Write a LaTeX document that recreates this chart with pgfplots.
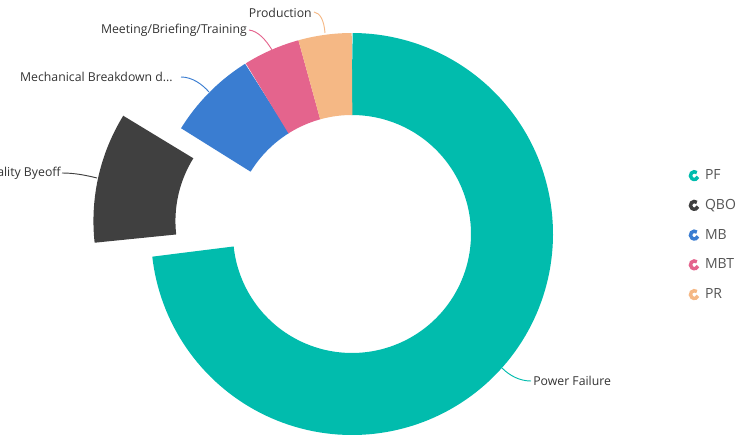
\documentclass[border=0pt]{standalone}
\usepackage{pgfplots}
\usepackage{pgfplotstable}
\pgfplotsset{compat=1.18}
\usepackage{fontspec}
\setmainfont{Open Sans}
\definecolor{cPF}{HTML}{01BCAD}
\definecolor{cQBO}{HTML}{404040}
\definecolor{cMB}{HTML}{3A7DD1}
\definecolor{cMBT}{HTML}{E4648D}
\definecolor{cPR}{HTML}{F5B885}
\definecolor{lbl}{HTML}{333333}
\definecolor{legtext}{HTML}{555555}
\pgfplotstableread{
code value
PF 73.25
QBO 10.55
MB 7.30
MBT 4.60
PR 4.30
}\slices
\newcommand\ringicon[1]{\addlegendimage{legend image code/.code={\draw[#1,line width=2.6pt] (50:2.9pt) arc[start angle=50,end angle=340,radius=2.9pt];}}}
\pgfplotstablegetelem{0}{value}\of\slices \let\vPF\pgfplotsretval
\pgfplotstablegetelem{1}{value}\of\slices \let\vQBO\pgfplotsretval
\pgfplotstablegetelem{2}{value}\of\slices \let\vMB\pgfplotsretval
\pgfplotstablegetelem{3}{value}\of\slices \let\vMBT\pgfplotsretval
\pgfplotstablegetelem{4}{value}\of\slices \let\vPR\pgfplotsretval
\pgfmathsetmacro\tot{\vPF+\vQBO+\vMB+\vMBT+\vPR}
\pgfmathsetmacro\aPF{90-360*(\vPF/\tot)}
\pgfmathsetmacro\aQBO{\aPF-360*(\vQBO/\tot)}
\pgfmathsetmacro\aMB{\aQBO-360*(\vMB/\tot)}
\pgfmathsetmacro\aMBT{\aMB-360*(\vMBT/\tot)}
\pgfmathsetmacro\aPR{\aMBT-360*(\vPR/\tot)}
\pgfmathsetmacro\mQBO{(\aPF+\aQBO)/2}
\pgfmathsetmacro\cxQ{352+59*cos(\mQBO)}
\pgfmathsetmacro\cyQ{202+59*sin(\mQBO)}
\begin{document}
\begin{tikzpicture}
\path[use as bounding box] (0,0) rectangle (552.75pt,327pt);
\clip (0,0) rectangle (552.75pt,327pt);
\begin{axis}[at={(0,0)}, anchor=south west, scale only axis,
  width=552.75pt, height=327pt, xmin=0, xmax=737, ymin=0, ymax=436,
  hide axis, clip=false,
  legend style={at={(axis cs:684,270)}, anchor=north west, draw=none, fill=none,
    font=\fontsize{10.5}{12}\selectfont\color{legtext}, row sep=12.3pt,
    nodes={inner sep=0pt, text height=8pt, text depth=2pt}, column sep=4pt},
  legend cell align=left]
\addplot[forget plot, domain=\aPF:90, samples=150, variable=\t, line width=61.5pt, draw=cPF] ({352+160*cos(\t)},{202+160*sin(\t)});
\addplot[forget plot, domain=\aQBO:\aPF, samples=40, variable=\t, line width=61.5pt, draw=cQBO] ({\cxQ+160*cos(\t)},{\cyQ+160*sin(\t)});
\addplot[forget plot, domain=\aMB:\aQBO, samples=40, variable=\t, line width=61.5pt, draw=cMB] ({352+160*cos(\t)},{202+160*sin(\t)});
\addplot[forget plot, domain=\aMBT:\aMB, samples=30, variable=\t, line width=61.5pt, draw=cMBT] ({352+160*cos(\t)},{202+160*sin(\t)});
\addplot[forget plot, domain=\aPR:\aMBT, samples=30, variable=\t, line width=61.5pt, draw=cPR] ({352+160*cos(\t)},{202+160*sin(\t)});
\ringicon{cPF}\addlegendentry{PF}
\ringicon{cQBO}\addlegendentry{QBO}
\ringicon{cMB}\addlegendentry{MB}
\ringicon{cMBT}\addlegendentry{MBT}
\ringicon{cPR}\addlegendentry{PR}
% leader lines and labels
\draw[cPR, line width=0.7pt] (axis cs:325,403) .. controls (axis cs:324,416) and (axis cs:320,423) .. (axis cs:314,424);
\node[anchor=east, inner sep=0pt, text=lbl, font=\fontsize{9.2}{10}\selectfont] at (axis cs:312,423) {Production};
\draw[cMBT, line width=0.7pt] (axis cs:272,386) .. controls (axis cs:266,396) and (axis cs:258,405) .. (axis cs:249,406);
\node[anchor=east, inner sep=0pt, text=lbl, font=\fontsize{9.2}{10}\selectfont] at (axis cs:247,406) {Meeting/Briefing/Training};
\draw[cMB, line width=0.7pt] (axis cs:209,344) .. controls (axis cs:202,352) and (axis cs:192,359) .. (axis cs:181,359);
\node[anchor=east, inner sep=0pt, text=lbl, font=\fontsize{9.2}{10}\selectfont] at (axis cs:173,359) {Mechanical Breakdown d...};
\draw[cQBO, line width=0.7pt] (axis cs:97,258) .. controls (axis cs:85,261) and (axis cs:74,263) .. (axis cs:62,263);
\node[anchor=east, inner sep=0pt, text=lbl, font=\fontsize{9.2}{10}\selectfont] at (axis cs:61,263) {Quality Byeoff};
\draw[cPF, line width=0.7pt] (axis cs:502,68) .. controls (axis cs:510,60) and (axis cs:520,55) .. (axis cs:531,55);
\node[anchor=west, inner sep=0pt, text=lbl, font=\fontsize{9.2}{10}\selectfont] at (axis cs:533,55) {Power Failure};
\end{axis}
\end{tikzpicture}
\end{document}
